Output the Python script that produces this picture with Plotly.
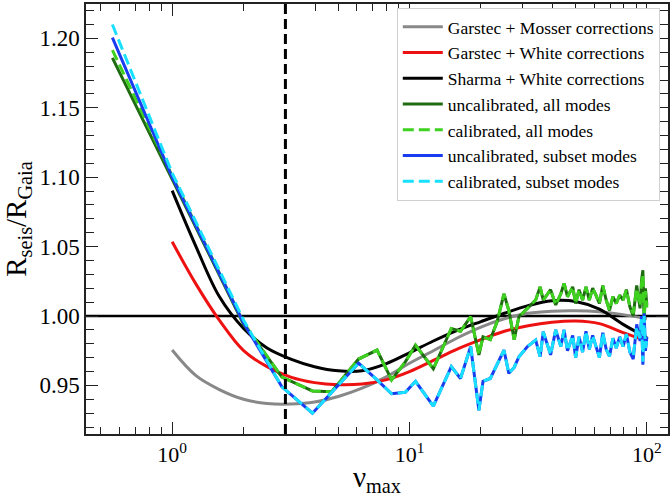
import plotly.graph_objects as go

# Smooth model curves sampled along nu_max
nu_smooth = [1.0, 1.26, 1.58, 2.0, 2.51, 3.16, 3.98, 5.01, 6.31, 7.94, 10.0,
             12.6, 15.8, 20.0, 25.1, 31.6, 39.8, 50.1, 63.1, 79.4, 100.0]
garstec_mosser = [0.9755, 0.957, 0.947, 0.940, 0.937, 0.9366, 0.938, 0.942, 0.948, 0.956, 0.966,
                  0.975, 0.984, 0.992, 0.998, 1.002, 1.0035, 1.0038, 1.003, 1.001, 0.998]
garstec_white = [1.0535, 1.023, 0.997, 0.975, 0.9635, 0.956, 0.952, 0.9505, 0.951, 0.954, 0.960,
                 0.968, 0.976, 0.983, 0.989, 0.993, 0.9955, 0.9964, 0.9945, 0.988, 0.982]
sharma_white = [1.0903, 1.050, 1.014, 0.991, 0.977, 0.969, 0.9635, 0.9605, 0.9605, 0.9655, 0.9735,
                0.982, 0.9895, 0.996, 1.002, 1.0075, 1.011, 1.0105, 1.005, 0.994, 0.9845]

# Mode-fitting results
nu_modes = [0.56, 1.0, 2.0, 2.9, 3.9, 4.7, 6.1, 7.3, 8.4, 9.6,
            10.6, 12.6, 15.0, 16.4, 18.1, 19.6, 20.4, 21.9, 23.4, 25.0,
            26.2, 27.6, 28.9, 31.4, 34.0, 35.5, 36.6, 39.3, 41.3, 43.4,
            44.8, 46.3, 48.7, 50.1, 51.8, 53.6, 55.4, 57.2, 59.1, 61.0,
            63.1, 65.2, 67.4, 69.6, 71.9, 74.3, 76.8, 79.4, 82.0, 84.8,
            87.6, 90.6, 93.6, 95.0, 96.2, 97.4, 98.6, 100.0]
uncal_all = [1.186, 1.099, 0.994, 0.956, 0.946, 0.9455, 0.969, 0.9755, 0.954, 0.967,
             0.979, 0.962, 0.991, 0.989, 0.9995, 0.972, 0.985, 0.983, 0.996, 1.016,
             1.004, 0.983, 0.9995, 1.0055, 1.0115, 1.021, 1.0115, 1.019, 1.008, 1.016,
             1.0235, 1.0139, 1.021, 1.009, 1.019, 1.0115, 1.021, 1.0115, 1.020, 1.015,
             1.009, 1.022, 1.0115, 1.004, 1.014, 1.009, 1.015, 1.0115, 1.019, 1.0067,
             1.000, 1.022, 1.0055, 1.026, 1.033, 0.995, 1.020, 1.008]
cal_all = [1.1916, 1.101, 0.995, 0.956, 0.946, 0.9455, 0.969, 0.9755, 0.954, 0.967,
           0.979, 0.962, 0.991, 0.989, 0.9995, 0.972, 0.985, 0.983, 0.996, 1.016,
           1.004, 0.983, 0.9995, 1.0055, 1.0115, 1.021, 1.0115, 1.019, 1.008, 1.016,
           1.0235, 1.0139, 1.021, 1.009, 1.019, 1.0115, 1.021, 1.0115, 1.020, 1.015,
           1.009, 1.022, 1.0115, 1.004, 1.014, 1.009, 1.015, 1.0115, 1.019, 1.0067,
           1.002, 1.020, 1.0075, 1.024, 1.030, 0.998, 1.018, 1.006]
uncal_subset = [1.2006, 1.100, 0.995, 0.949, 0.930, 0.945, 0.966, 0.954, 0.944, 0.945,
                0.953, 0.935, 0.9635, 0.955, 0.978, 0.932, 0.953, 0.955, 0.965, 0.9755,
                0.9587, 0.963, 0.9707, 0.978, 0.9827, 0.9707, 0.9887, 0.972, 0.990, 0.978,
                0.990, 0.975, 0.986, 0.970, 0.985, 0.974, 0.989, 0.976, 0.986, 0.978,
                0.970, 0.988, 0.976, 0.971, 0.984, 0.977, 0.985, 0.978, 0.987, 0.974,
                0.969, 0.994, 0.982, 1.000, 0.965, 1.002, 0.975, 0.985]
cal_subset = [1.210, 1.103, 0.997, 0.949, 0.930, 0.945, 0.966, 0.954, 0.944, 0.945,
              0.953, 0.935, 0.9635, 0.955, 0.978, 0.932, 0.953, 0.955, 0.965, 0.9755,
              0.9587, 0.963, 0.9707, 0.978, 0.9827, 0.9707, 0.9887, 0.972, 0.990, 0.978,
              0.990, 0.975, 0.986, 0.970, 0.985, 0.974, 0.989, 0.976, 0.986, 0.978,
              0.970, 0.988, 0.976, 0.971, 0.984, 0.977, 0.985, 0.978, 0.987, 0.974,
              0.971, 0.992, 0.984, 0.998, 0.967, 1.000, 0.977, 0.983]

nu_ref = 3.0
ratio_ref = 1.0

FONT = "Liberation Serif, Times New Roman, serif"
DASH = "11px,5px"

fig = go.Figure()


def add_line(x, y, name, color, dash="solid", width=3, shape="linear"):
    fig.add_trace(go.Scatter(x=x, y=y, mode="lines", name=name,
                             line=dict(color=color, width=width, dash=dash, shape=shape)))


add_line(nu_smooth, garstec_mosser, "Garstec + Mosser corrections", "#888888", shape="spline")
add_line(nu_smooth, garstec_white, "Garstec + White corrections", "#ee1111", shape="spline")
add_line(nu_smooth, sharma_white, "Sharma + White corrections", "#000000", shape="spline")
add_line(nu_modes, uncal_all, "uncalibrated, all modes", "#1f6b12")
add_line(nu_modes, cal_all, "calibrated, all modes", "#3fd120", dash=DASH)
add_line(nu_modes, uncal_subset, "uncalibrated, subset modes", "#1a3cf0")
add_line(nu_modes, cal_subset, "calibrated, subset modes", "#19e0ff", dash=DASH)

# invisible anchor for the mirrored top/right axes
fig.add_trace(go.Scatter(x=[nu_ref], y=[ratio_ref], xaxis="x2", yaxis="y2", mode="markers",
                         marker=dict(opacity=0), showlegend=False, hoverinfo="skip"))

fig.add_shape(type="line", xref="paper", yref="y", x0=0, x1=1, y0=ratio_ref, y1=ratio_ref,
              line=dict(color="black", width=2.5), layer="below")
fig.add_shape(type="line", xref="x", yref="paper", x0=nu_ref, x1=nu_ref, y0=0, y1=1,
              line=dict(color="black", width=3, dash="10px,5px"), layer="above")

xrange = [-0.363, 2.089]
yrange = [0.915, 1.2248]
minor_x = [m * 10.0 ** e for e in (-1, 0, 1) for m in range(2, 10)]
major_y = [0.95, 1.00, 1.05, 1.10, 1.15, 1.20]
minor_y = [round(0.92 + 0.01 * i, 2) for i in range(31)]

axis_common = dict(showgrid=False, zeroline=False, showline=True, linecolor="#222222",
                   linewidth=1.5, ticks="inside", tickcolor="#222222", tickwidth=1.3)

fig.update_layout(
    width=670, height=497,
    margin=dict(l=86, r=2, t=4, b=63),
    plot_bgcolor="white", paper_bgcolor="white",
    font=dict(family=FONT, color="black"),
    showlegend=True,
    xaxis=dict(type="log", range=xrange, tickvals=[1, 10, 100],
               ticktext=["10<sup>0</sup>", "10<sup>1</sup>", "10<sup>2</sup>"],
               ticklen=12, tickfont=dict(size=22, family=FONT),
               minor=dict(tickvals=minor_x, ticks="inside", ticklen=7, tickwidth=1.2,
                          tickcolor="#222222"),
               title=dict(text="ν<sub>max</sub>", font=dict(size=29, family=FONT), standoff=6),
               **axis_common),
    yaxis=dict(range=yrange, tickvals=major_y, tickformat=".2f", ticklen=12,
               tickfont=dict(size=23, family=FONT),
               minor=dict(tickvals=minor_y, ticks="inside", ticklen=8, tickwidth=1.2,
                          tickcolor="#222222"),
               title=dict(text="R<sub>seis</sub>/R<sub>Gaia</sub>", font=dict(size=29, family=FONT),
                          standoff=4),
               **axis_common),
    xaxis2=dict(type="log", range=xrange, overlaying="x", side="top", anchor="y2",
                tickvals=[1, 10, 100], ticklen=12, showticklabels=False,
                minor=dict(tickvals=minor_x, ticks="inside", ticklen=7, tickwidth=1.2,
                           tickcolor="#222222"),
                **axis_common),
    yaxis2=dict(range=yrange, overlaying="y", side="right", anchor="x2",
                tickvals=major_y, ticklen=12, showticklabels=False,
                minor=dict(tickvals=minor_y, ticks="inside", ticklen=8, tickwidth=1.2,
                           tickcolor="#222222"),
                **axis_common),
    legend=dict(x=0.534, y=0.991, xanchor="left", yanchor="top", bgcolor="white",
                bordercolor="#d0d0d0", borderwidth=1, font=dict(size=17.5, family=FONT),
                tracegroupgap=0, itemwidth=40),
)

fig.write_html("out.html")
